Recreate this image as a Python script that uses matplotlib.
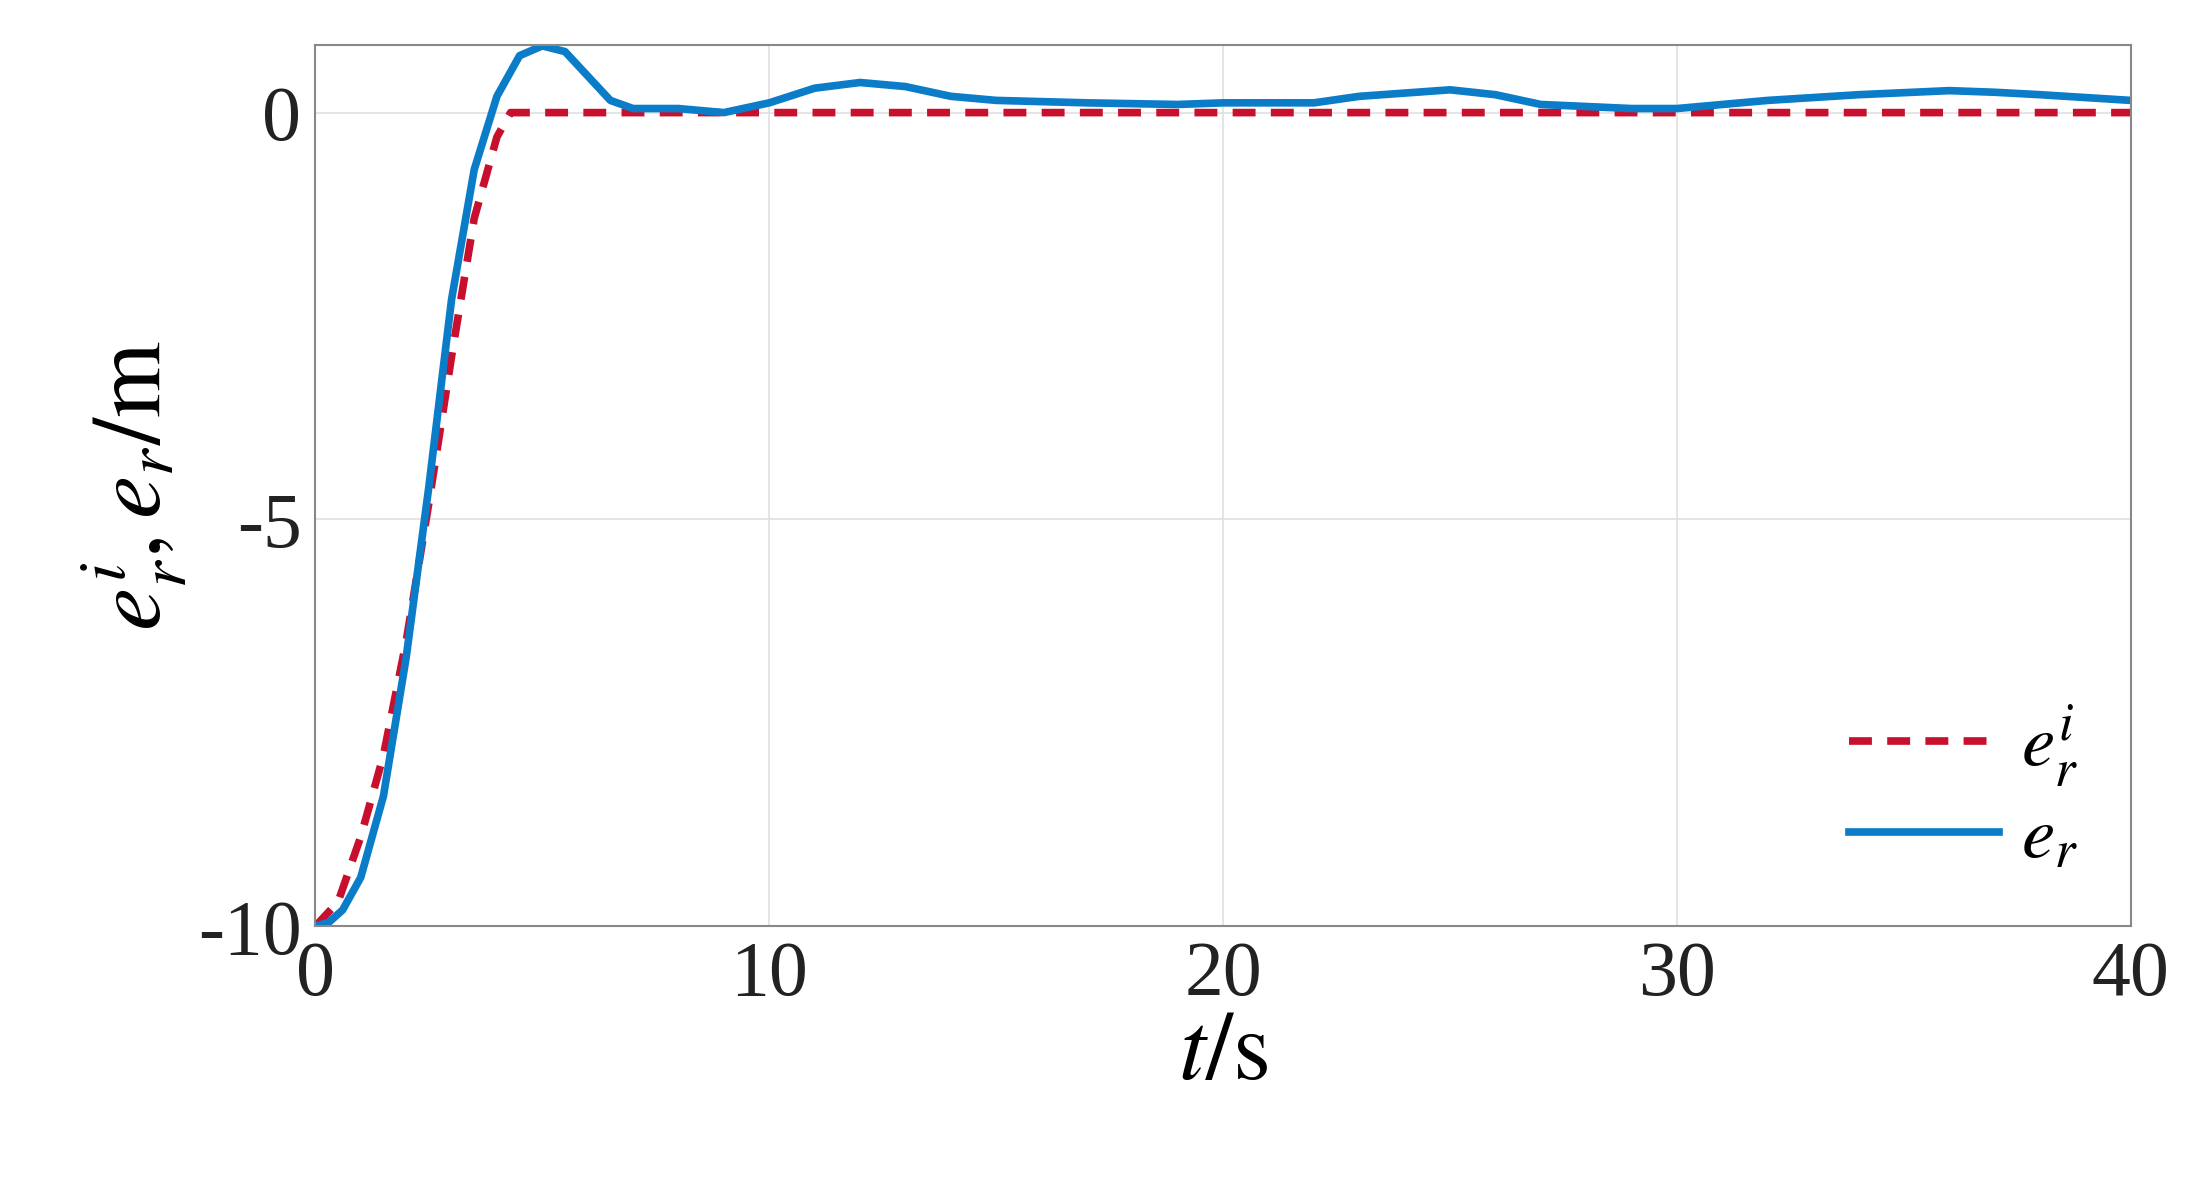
import matplotlib
matplotlib.use("Agg")
import matplotlib.pyplot as plt

plt.rcParams['font.family'] = ['Liberation Serif', 'DejaVu Serif']
plt.rcParams['mathtext.fontset'] = 'stix'
plt.rcParams['axes.unicode_minus'] = False

t_ref = [0, 0.5, 1, 1.5, 2, 2.5, 3, 3.5, 4, 4.3, 40]
e_ref = [-10, -9.7, -8.9, -7.9, -6.5, -4.8, -3.0, -1.3, -0.3, 0, 0]

t_act = [0, 0.3, 0.6, 1, 1.5, 2, 2.5, 3, 3.5, 4, 4.5, 5, 5.5, 6, 6.5, 7, 8, 9, 10, 11, 12, 13,
         14, 15, 17, 19, 20, 22, 23, 25, 26, 27, 29, 30, 32, 34, 36, 37, 38, 40]
e_act = [-10, -9.95, -9.8, -9.4, -8.4, -6.7, -4.6, -2.3, -0.7, 0.2, 0.7, 0.82, 0.75, 0.45, 0.15,
         0.05, 0.05, 0.0, 0.12, 0.3, 0.37, 0.32, 0.2, 0.15, 0.12, 0.1, 0.12, 0.12, 0.2,
         0.28, 0.22, 0.1, 0.05, 0.05, 0.15, 0.22, 0.27, 0.25, 0.22, 0.15]

fig = plt.figure(figsize=(21.9, 11.86), dpi=100)
ax = fig.add_axes([0.144, 0.219, 0.829, 0.743])
ax.plot(t_ref, e_ref, '--', color='#C8102E', lw=5.5, dashes=(3, 2), label=r'$e_r^i$')
ax.plot(t_act, e_act, '-', color='#0A7CC8', lw=5.5, label=r'$e_r$')
ax.set_xlim(0, 40)
ax.set_ylim(-10, 0.83)
ax.set_xticks([0, 10, 20, 30, 40])
ax.set_yticks([-10, -5, 0])
ax.grid(True, color='#E0E0E0', lw=1.2)
for s in ax.spines.values():
    s.set_color('#888888'); s.set_linewidth(1.5)
ax.tick_params(labelsize=56, length=0, pad=10, colors='#222222')
ax.set_xlabel(r'$t/\mathrm{s}$', fontsize=70, labelpad=0)
ax.set_ylabel(r'$e_r^i, e_r/\mathrm{m}$', fontsize=70, labelpad=6)
ax.legend(loc='lower right', frameon=False, fontsize=54, handlelength=2.0,
          borderaxespad=0.3, labelspacing=0.2, handletextpad=0.3)
fig.savefig('out.png', dpi=100)
